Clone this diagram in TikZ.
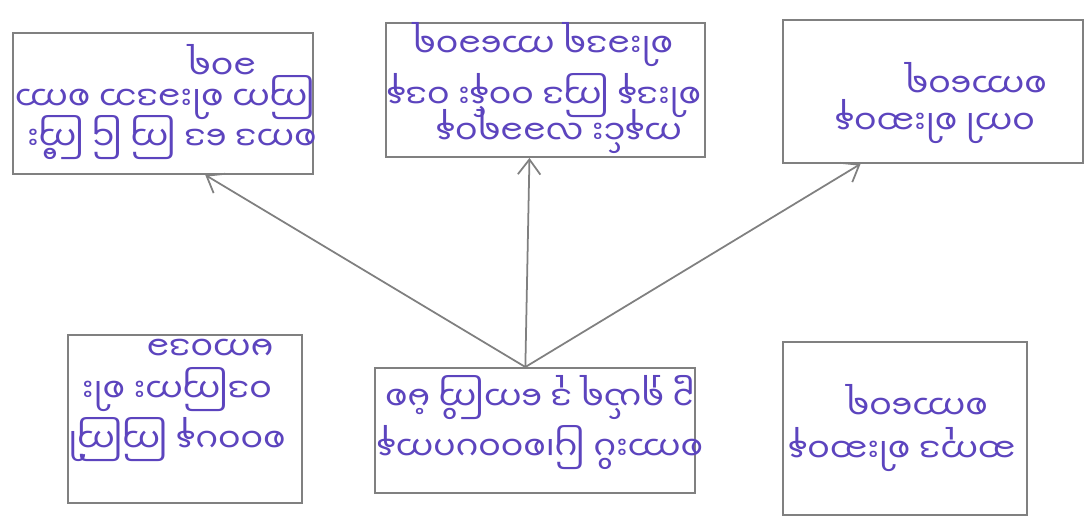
\documentclass[tikz,border=0pt]{standalone}
\usepackage{fontspec}
\newfontfamily\my[Script=Myanmar]{Noto Sans Myanmar UI}
\usetikzlibrary{fit,arrows.meta,calc}
\definecolor{ink}{RGB}{92,68,190}
\definecolor{pencil}{RGB}{128,128,128}
\begin{document}
\begin{tikzpicture}[x=0.02cm,y=-0.02cm,
  box/.style={draw=pencil,line width=1.1pt,inner sep=0pt,fit={#1}},
  txt/.style={text=ink,font=\my\fontsize{19}{22}\selectfont,rotate=180,inner sep=0pt},
  link/.style={draw=pencil,line width=1pt,-{Straight Barb[length=3mm,width=4.5mm]}}]
\fill[white] (0,0) rectangle (1087,519);
\useasboundingbox (0,0) rectangle (1087,519);
% boxes
\node[box={(13,33)(313,174)}] (tl) {};
\node[box={(386,23)(705,157)}] (tm) {};
\node[box={(783,20)(1083,163)}] (tr) {};
\node[box={(68,335)(302,503)}] (bl) {};
\node[box={(375,368)(695,493)}] (bc) {};
\node[box={(783,342)(1027,515)}] (br) {};
% texts (upside down, as in the reference)
\node[txt] (tlA) at (222,60) {ခဝရ};
\node[txt] (tlB) at (165,98) {ကြက စါးခဒဘ စကာ};
\node[txt] (tlC) at (172,138) {စကဒ ဒေ ကြ ငြ ကြီး};
\node[txt] (tmA) at (543,45) {စါးခဒရ ကာခေဝရ};
\node[txt] (tmB) at (544,96) {စါးဒန ကြဒ ဝဝန်း ဝဒန};
\node[txt] (tmC) at (559,132) {ကနင်း လခခရဝန};
\node[txt] (trA) at (976,78) {စကာဝေရ};
\node[txt] (trB) at (935,122) {ဝကါ စါးဆဝန};
\node[txt] (blA) at (210,345) {မကဝဒခ};
\node[txt] (blB) at (177,390) {ဝဒကြကး စါး};
\node[txt] (blC) at (177,440) {စဝဝပန ကြကြါ};
\node[txt] (bcA) at (540,398) {ဥ ရှယ်ရ ဒု ကေကြိ မံစ};
\node[txt] (bcB) at (540,448) {စကားပိ ပြ၊စဝဝပဂကန};
\node[txt] (brA) at (917,400) {စကာဝေရ};
\node[txt] (brB) at (902,450) {ဆကုဒ စါးဆဝန};
% connectors
\coordinate (root) at ($(bc.north west)!0.47!(bc.north east)$);
\draw[link] (root) -- ($(tl.south west)!0.64!(tl.south east)$);
\draw[link] (root) -- ($(tm.south west)!0.45!(tm.south east)$);
\draw[link] (root) -- ($(tr.south west)!0.26!(tr.south east)$);
\end{tikzpicture}
\end{document}
